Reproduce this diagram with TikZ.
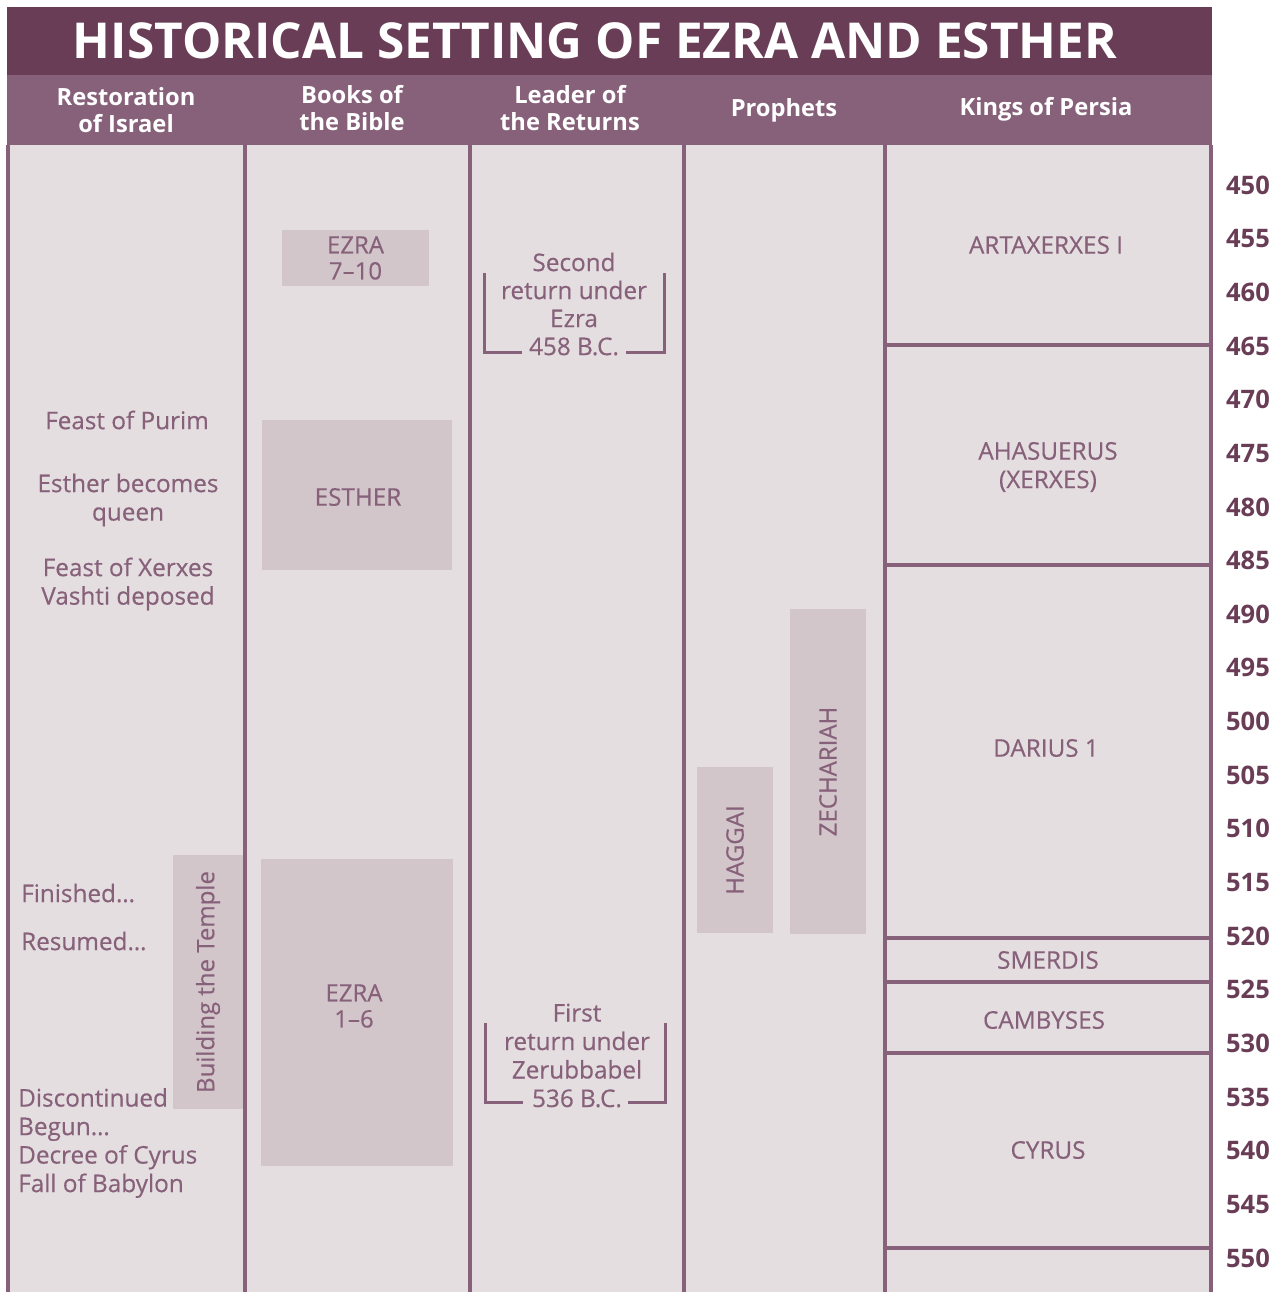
\documentclass[tikz,border=0pt]{standalone}
\usepackage{fontspec}
\setmainfont{Open Sans}
\newfontfamily\medfont[FakeBold=0.4]{Open Sans}
\definecolor{plumdark}{HTML}{6A3D56}
\definecolor{plumhead}{HTML}{87617A}
\definecolor{plumbg}{HTML}{E4DEE1}
\definecolor{plumbox}{HTML}{D3C6CB}
\begin{document}
\begin{tikzpicture}[
  x=1pt, y=-1pt,
  every node/.style={inner sep=0pt, align=center},
  lbl/.style={text=plumhead, font=\medfont\fontsize{24.3}{28.5}\selectfont},
  headlbl/.style={text=white, font=\bfseries\fontsize{23.7}{26.5}\selectfont},
  yearlbl/.style={text=plumdark, font=\bfseries\fontsize{25.5}{26}\selectfont},
  bookbox/.style={lbl, fill=plumbox, font=\medfont\fontsize{24}{26}\selectfont},
  rule/.style={draw=plumhead, line width=3.5pt},
  bracket/.style={draw=plumhead, line width=3pt}
]
\useasboundingbox (0,0) rectangle (1284,1292);

% bars and body
\fill[plumdark] (7,7) rectangle (1212,75);
\fill[plumhead] (7,75) rectangle (1212,145);
\fill[plumbg] (8,145) rectangle (1211,1292);
\node[text=white, font=\bfseries\fontsize{49.5}{56}\selectfont] (title) at (595,41) {HISTORICAL SETTING OF EZRA AND ESTHER};

% column heads
\node[headlbl] (hrest) at (126,110) {Restoration\\of Israel};
\node[headlbl] (hbook) at (352,108) {Books of\\the Bible};
\node[headlbl] (hlead) at (570,108) {Leader of\\the Returns};
\node[headlbl] (hprop) at (784,110) {Prophets};
\node[headlbl] (hking) at (1046,109) {Kings of Persia};

% column rules
\foreach \cx in {8,245,470,684,885,1211}
  \draw[rule] (\cx,145) -- (\cx,1292);
\foreach \ry in {345,565,938,982,1053,1248}
  \draw[rule] (885,\ry) -- (1211,\ry);

% restoration of Israel
\node[lbl] (purim) at (127,420) {Feast of Purim};
\node[lbl] (queen) at (128,500) {Esther becomes\\queen};
\node[lbl] (xerxes) at (128,584) {Feast of Xerxes\\Vashti deposed};
\node[lbl, anchor=west] (finished) at (21,893) {Finished…};
\node[lbl, anchor=west] (resumed) at (21,941) {Resumed…};
\node[lbl, anchor=west, align=left] (begun) at (18,1143) {Discontinued\\Begun…\\Decree of Cyrus\\Fall of Babylon};
\node[bookbox, rotate=90, minimum width=254, minimum height=70] (temple) at (208,982) {Building the Temple};

% books of the Bible
\node[bookbox, minimum width=147, minimum height=56] (ezrab) at (355.5,258) {EZRA\\7–10};
\node[bookbox, minimum width=190, minimum height=150] (esther) at (357,495) {};
\node[lbl] (estherlbl) at (358,497) {ESTHER};
\node[bookbox, minimum width=192, minimum height=307] (ezraa) at (357,1012) {};
\node[lbl, font=\medfont\fontsize{24}{26}\selectfont] (ezraalbl) at (354,1006) {EZRA\\1–6};

% leader of the returns
\node[lbl, font=\medfont\fontsize{24.3}{28}\selectfont] (ret2) at (574,304) {Second\\return under\\Ezra\\458 B.C.};
\draw[bracket] (484,273) -- (484,352) -- (522,352);
\draw[bracket] (626,352) -- (664,352) -- (664,273);
\node[lbl] (ret1) at (577,1055.5) {First\\return under\\Zerubbabel\\536 B.C.};
\draw[bracket] (485,1023) -- (485,1102) -- (523,1102);
\draw[bracket] (628,1102) -- (665,1102) -- (665,1023);

% prophets
\node[bookbox, rotate=90, minimum width=166, minimum height=76] (haggai) at (735,850) {HAGGAI};
\node[bookbox, rotate=90, minimum width=325, minimum height=76] (zech) at (828,771.5) {ZECHARIAH};

% kings of Persia
\node[lbl] (artax) at (1046,245) {ARTAXERXES I};
\node[lbl] (ahas) at (1048,467) {AHASUERUS\\(XERXES)};
\node[lbl] (darius) at (1046,748) {DARIUS 1};
\node[lbl] (smerdis) at (1048,960) {SMERDIS};
\node[lbl] (camb) at (1044,1020) {CAMBYSES};
\node[lbl] (cyrus) at (1048,1150) {CYRUS};

% years
\foreach \yr [count=\i from 0] in {450,455,...,550}
  \node[yearlbl] (y\yr) at (1248,185+\i*53.65) {\yr};
\end{tikzpicture}
\end{document}
